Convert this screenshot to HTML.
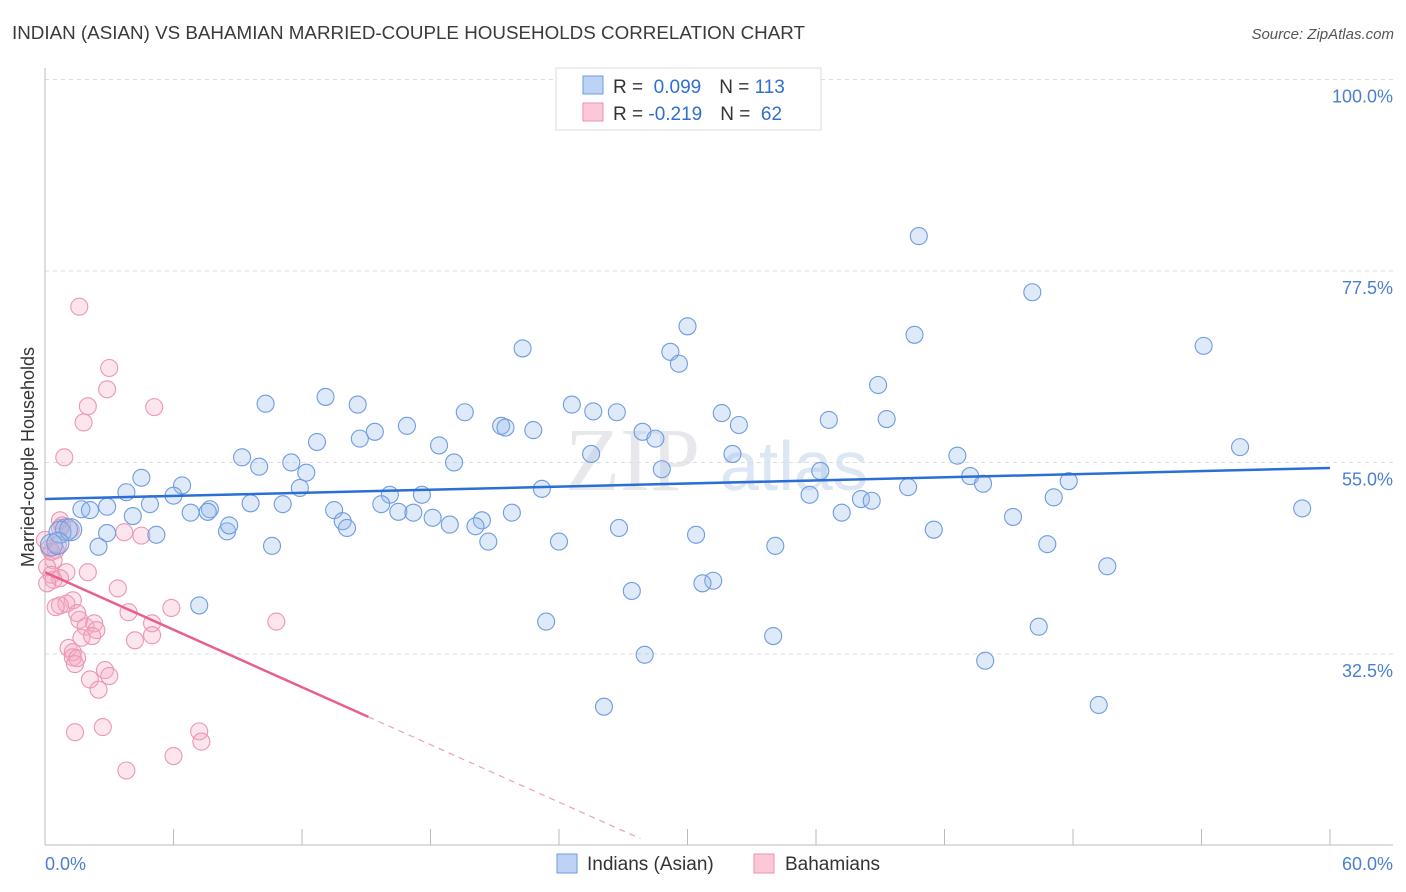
<!DOCTYPE html>
<html><head><meta charset="utf-8">
<style>
body{margin:0;background:#fff;font-family:"Liberation Sans",sans-serif;}
svg{display:block}
</style></head>
<body>
<svg id="chart" width="1406" height="892" viewBox="0 0 1406 892" xmlns="http://www.w3.org/2000/svg">
<text x="12" y="39" font-size="18" fill="#3a3a3a" textLength="793" lengthAdjust="spacingAndGlyphs">INDIAN (ASIAN) VS BAHAMIAN MARRIED-COUPLE HOUSEHOLDS CORRELATION CHART</text>
<text x="1394" y="39" font-size="15" fill="#555" text-anchor="end" font-style="italic">Source: ZipAtlas.com</text>
<text x="700" y="490" font-size="90" fill="#e8e8ec" text-anchor="end" font-family="Liberation Serif">ZIP</text>
<text x="720" y="490" font-size="70" fill="#dde6f3">atlas</text>
<g id="grid"></g>
<g id="axes"></g>
<g id="pinkPts"></g>
<g id="bluePts"></g>
<g id="lines"></g>
<text transform="translate(34,457) rotate(-90)" font-size="18" fill="#333" text-anchor="middle">Married-couple Households</text>
<g>
<rect x="556" y="68" width="265" height="62" fill="#fff" stroke="#ddd"/>
<rect x="583" y="76" width="20" height="18" fill="#bcd3f5" stroke="#6f9be0"/>
<rect x="583" y="103" width="20" height="18" fill="#fac8d7" stroke="#ea93ad"/>
<text x="613" y="93" font-size="19" fill="#333">R = <tspan fill="#2f6fd0">&#160;0.099</tspan><tspan dx="18">N = </tspan><tspan fill="#2f6fd0">113</tspan></text>
<text x="613" y="120" font-size="19" fill="#333">R = <tspan fill="#2f6fd0">-0.219</tspan><tspan dx="18">N = </tspan><tspan fill="#2f6fd0">&#160;62</tspan></text>
</g>
<g>
<rect x="557" y="854" width="20" height="19" fill="#bcd3f5" stroke="#6f9be0"/>
<text x="587" y="870" font-size="19" fill="#333">Indians (Asian)</text>
<rect x="754" y="854" width="20" height="19" fill="#fac8d7" stroke="#ea93ad"/>
<text x="785" y="870" font-size="19" fill="#333">Bahamians</text>
</g>
</svg>
<script>
const xTicks=[0,6,12,18,24,30,36,42,48,54,60];
const yTicks=[32.5,55.0,77.5,100.0];
const yTickLabels=["32.5%","55.0%","77.5%","100.0%"];
const xEndLabels=["0.0%","60.0%"];
const blueX=[40.8,46.1,30.0,40.6,54.1,22.3,29.2,29.6,38.9,10.3,13.1,14.6,24.6,19.6,25.6,26.7,31.6,36.6,39.3,21.3,21.5,22.8,32.4,16.9,15.4,12.7,14.7,27.9,28.5,18.4,55.8,9.2,25.5,32.1,42.6,11.5,10.0,19.1,28.8,36.2,43.2,12.2,4.5,6.4,43.8,47.8,3.8,11.9,6.0,23.2,40.3,16.1,17.6,47.1,35.7,38.1,38.6,4.9,9.6,11.1,15.7,1.7,2.9,2.1,6.8,7.7,7.6,13.5,16.5,17.2,18.1,21.8,58.7,37.2,4.1,18.9,20.4,20.1,13.9,14.1,45.2,8.5,8.6,26.8,41.5,2.9,5.2,30.4,1.0,0.7,1.2,0.3,0.6,2.5,10.6,20.7,24.0,34.1,46.8,49.6,31.2,30.7,27.4,7.2,23.4,34.0,46.4,28.0,43.9,26.1,49.2];
const blueY=[81.6,75.0,71.0,70.0,68.7,68.4,68.0,66.6,64.1,61.9,62.7,61.8,61.8,60.9,61.0,60.9,60.8,60.0,60.1,59.3,59.1,58.8,59.4,59.3,58.6,57.4,57.8,58.6,57.8,57.0,56.8,55.6,56.0,56.0,55.8,55.0,54.5,55.0,54.2,54.0,53.4,53.8,53.2,52.3,52.5,52.8,51.5,52.0,51.1,51.9,52.1,51.2,51.2,50.9,51.2,50.7,50.5,50.1,50.2,50.1,50.1,49.5,49.8,49.4,49.1,49.5,49.2,49.4,49.2,49.1,48.5,49.1,49.6,49.1,48.7,47.7,48.2,47.5,48.1,47.3,48.6,46.9,47.6,47.3,47.1,46.7,46.5,46.5,47.1,46.8,47.1,45.3,45.5,45.1,45.2,45.7,45.7,45.2,45.4,42.8,41.1,40.8,39.9,38.2,36.3,34.6,35.7,32.4,31.7,26.3,26.5];
const pinkX=[1.6,3.0,2.9,2.0,5.1,1.8,0.9,0.6,0.3,0.2,0.5,0.7,0.8,1.2,0.7,3.7,4.5,0.4,0.1,0.3,1.0,2.0,0.4,0.7,0.1,3.4,1.3,0.7,1.0,0.5,1.5,3.9,5.9,1.6,1.9,2.3,10.8,5.0,2.4,1.7,2.2,5.0,4.2,1.1,1.3,1.3,1.5,1.4,2.8,3.0,2.1,2.5,2.7,1.4,7.2,7.3,6.0,3.8,0.0];
const pinkY=[73.3,66.1,63.6,61.6,61.5,59.7,55.6,45.3,44.5,44.9,44.7,48.2,47.6,47.1,47.3,46.8,46.4,43.5,42.7,41.8,42.1,42.1,41.2,41.4,40.8,40.2,38.8,38.2,38.4,38.0,37.3,37.4,37.9,36.5,35.7,36.1,36.3,36.1,35.3,34.4,34.6,34.7,34.1,33.2,32.7,32.1,32.0,31.3,30.6,29.9,29.5,28.3,23.9,23.3,23.4,22.2,20.5,18.8,45.9];
const blueTrend=[50.7,54.35];
const pinkTrend=[42.1,-1.1258];
const pinkSolidEnd=15.1, pinkDashEnd=27.8;

const NS="http://www.w3.org/2000/svg";
const X=v=>45+v*(1285/60);
const Y=v=>79.5+(100-v)*8.51;
function mk(tag,attrs,parent){const e=document.createElementNS(NS,tag);for(const k in attrs)e.setAttribute(k,attrs[k]);parent.appendChild(e);return e;}
const grid=document.getElementById('grid'),axes=document.getElementById('axes');
yTicks.forEach((t,i)=>{
  const l=mk('line',{x1:45,x2:1393,y1:Y(t),y2:Y(t),stroke:'#ddd','stroke-dasharray':'4,4'},grid);
  
  
  const tx=mk('text',{x:1393,y:Y(t)+23,'font-size':18,fill:'#4a7fd0','text-anchor':'end'},axes);
  tx.textContent=yTickLabels[i];
  
  
});
mk('line',{x1:45,x2:45,y1:68,y2:845,stroke:'#bbb'},axes);
mk('line',{x1:45,x2:1393,y1:845,y2:845,stroke:'#bbb'},axes);
xTicks.forEach(t=>{
  const l=mk('line',{x1:X(t),x2:X(t),y1:829,y2:845,stroke:'#bbb'},axes);
  
  
});
const x0=mk('text',{x:45,y:870,'font-size':18,fill:'#4a7fd0'},axes);x0.textContent=xEndLabels[0];


const x1=mk('text',{x:1393,y:870,'font-size':18,fill:'#4a7fd0','text-anchor':'end'},axes);x1.textContent=xEndLabels[1];



const pg=document.getElementById('pinkPts');
pinkX.forEach((v,i)=>{
  const c=mk('circle',{cx:X(v),cy:Y(pinkY[i]),r:8.5,fill:'rgba(246,170,195,0.3)',stroke:'#eb97b1','stroke-width':1.1},pg);
  
  
});
const bg=document.getElementById('bluePts');
blueX.forEach((v,i)=>{
  const big=v<1.3&&blueY[i]>44&&blueY[i]<48;
  const c=mk('circle',{cx:X(v),cy:Y(blueY[i]),r:big?11:8.5,fill:'rgba(150,185,235,0.3)',stroke:'#6f9be0','stroke-width':1.1},bg);
  
  
});
const lg=document.getElementById('lines');
const bl=mk('line',{x1:X(0),y1:Y(blueTrend[0]),x2:X(60),y2:Y(blueTrend[1]),stroke:'#2b6fd4','stroke-width':2.5},lg);


const pl=mk('line',{x1:X(0),y1:Y(pinkTrend[0]),x2:X(pinkSolidEnd),y2:Y(pinkTrend[0]+pinkTrend[1]*pinkSolidEnd),stroke:'#e8608a','stroke-width':2.5},lg);


const pd=mk('line',{x1:X(pinkSolidEnd),y1:Y(pinkTrend[0]+pinkTrend[1]*pinkSolidEnd),x2:X(pinkDashEnd),y2:Y(pinkTrend[0]+pinkTrend[1]*pinkDashEnd),stroke:'#eea0b8','stroke-width':1.2,'stroke-dasharray':'6,5'},lg);


</script>
</body></html>
